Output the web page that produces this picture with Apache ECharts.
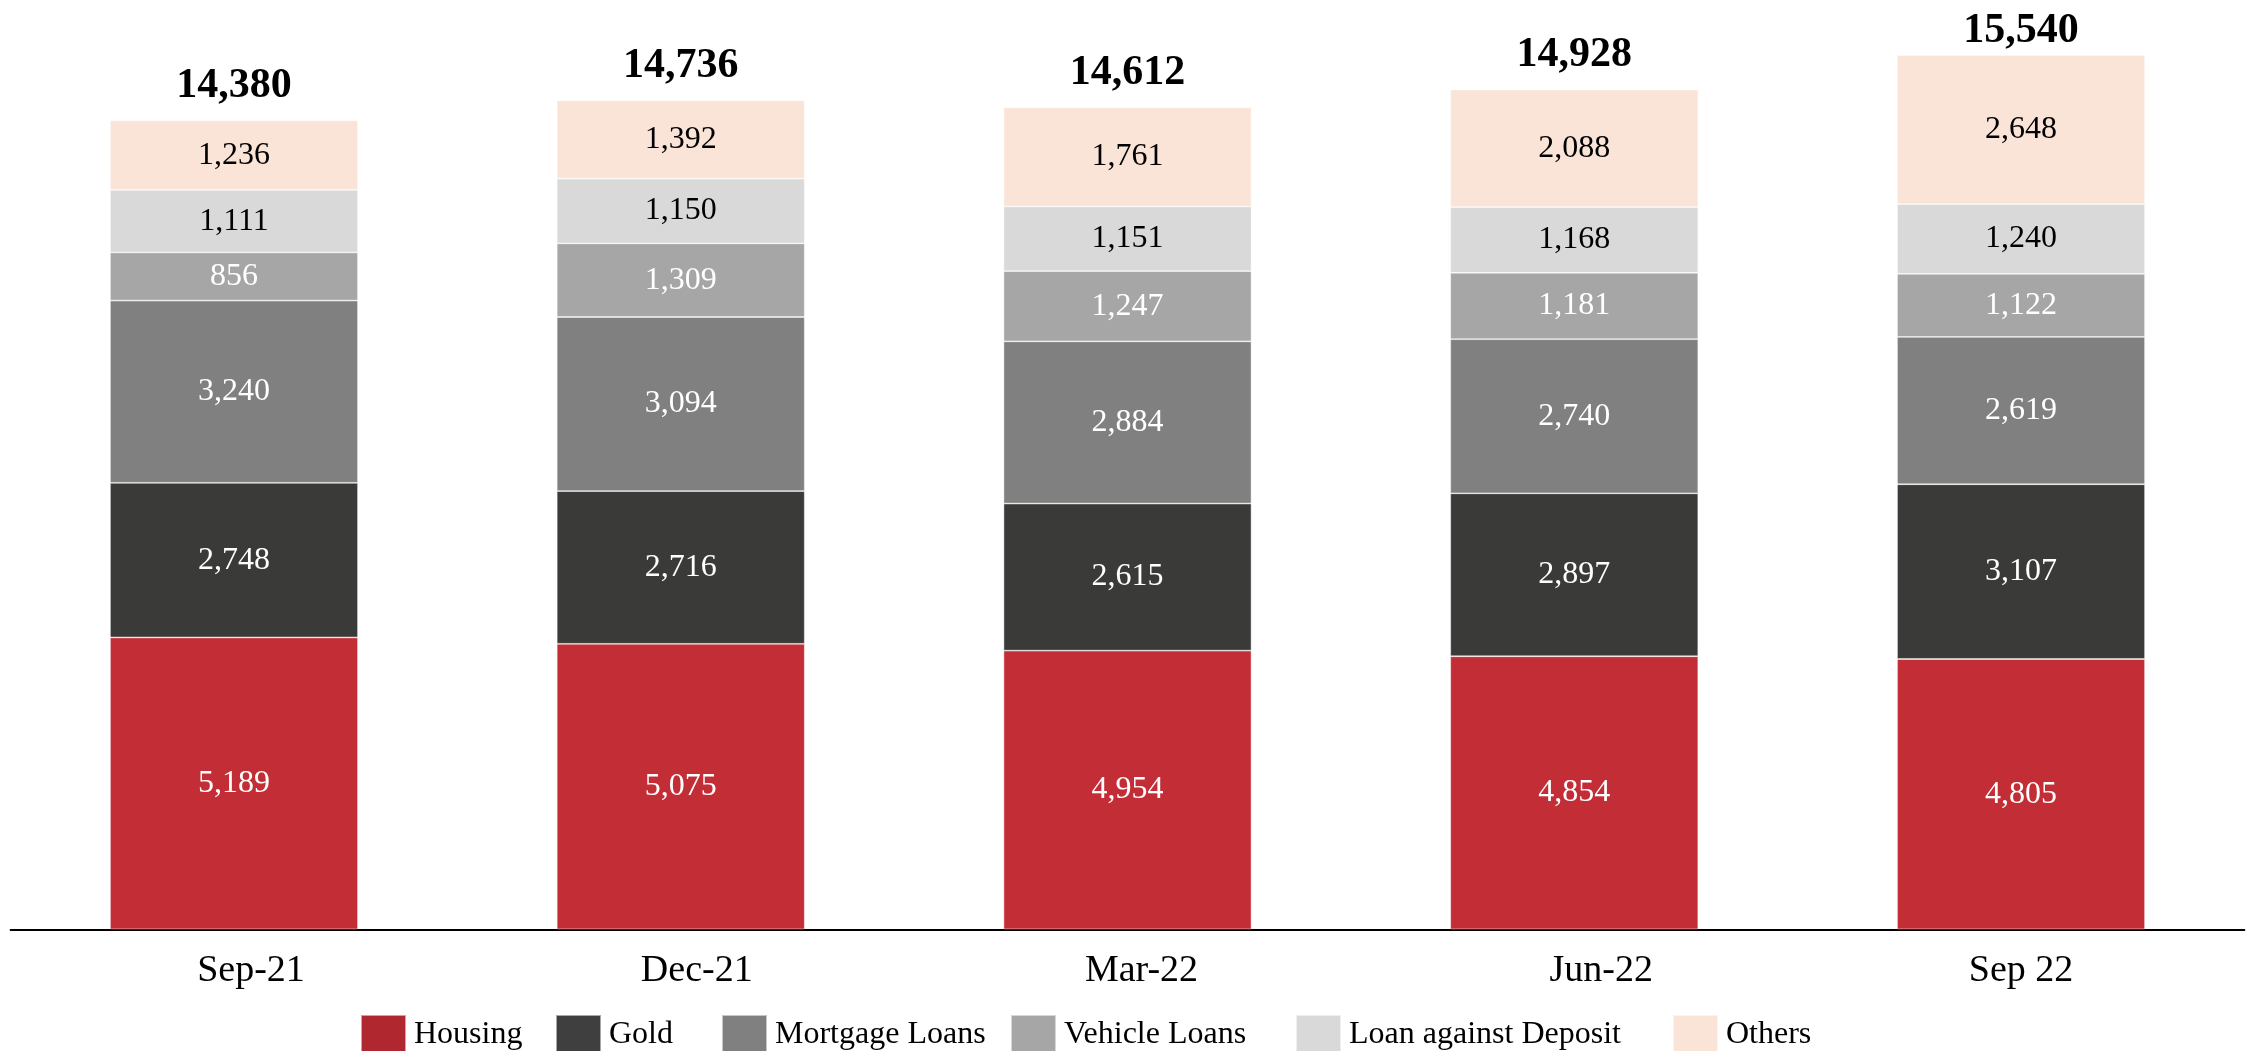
<!DOCTYPE html>
<html>
<head>
<meta charset="utf-8">
<script src="https://cdn.jsdelivr.net/npm/echarts@6/dist/echarts.min.js"></script>
<style>
  html, body { margin: 0; padding: 0; background: #ffffff; }
  #chart { width: 2251px; height: 1051px; }
</style>
</head>
<body>
<div id="chart"></div>
<script>
// Loan book composition by quarter (stacked), with quarter totals on top
const categories = ['Sep-21', 'Dec-21', 'Mar-22', 'Jun-22', 'Sep 22'];
const housing = [5189, 5075, 4954, 4854, 4805];
const gold = [2748, 2716, 2615, 2897, 3107];
const mortgageLoans = [3240, 3094, 2884, 2740, 2619];
const vehicleLoans = [856, 1309, 1247, 1181, 1122];
const loanAgainstDeposit = [1111, 1150, 1151, 1168, 1240];
const others = [1236, 1392, 1761, 2088, 2648];
const totals = [14380, 14736, 14612, 14928, 15540];

const seriesNames = ['Housing', 'Gold', 'Mortgage Loans', 'Vehicle Loans', 'Loan against Deposit', 'Others'];

const FONT = '"Liberation Serif", "Times New Roman", serif';
const fmt = v => Number(v).toLocaleString('en-US');

// Bar and legend swatch colours
const barColors = ['#C32D35', '#3A3A39', '#808080', '#A6A6A6', '#D9D9D9', '#FAE4D8'];
const swatchColors = ['#B0272F', '#3F3F3F', '#808080', '#A6A6A6', '#D9D9D9', '#FAE4D8'];
const labelColors = ['#ffffff', '#ffffff', '#ffffff', '#ffffff', '#000000', '#000000'];
// Left edge of each legend entry
const legendLefts = [355, 550, 716, 1005, 1290, 1667];
// Horizontal nudge (px) of each quarter label from its bar centre
const axisLabelShift = [17, 16, 14, 27, 0];

function stackSeries(i, data) {
  return {
    name: seriesNames[i],
    type: 'bar',
    stack: 'book',
    data: data,
    barWidth: 248,
    itemStyle: { color: barColors[i], borderColor: 'rgba(255,255,255,0.55)', borderWidth: 0.8 },
    label: {
      show: true,
      position: 'inside',
      color: labelColors[i],
      fontFamily: FONT,
      fontSize: 32,
      formatter: p => fmt(p.value)
    },
    emphasis: { disabled: true }
  };
}

const legends = seriesNames.map((name, i) => ({
  left: legendLefts[i],
  top: 1009,
  itemWidth: 45,
  itemHeight: 40,
  icon: 'rect',
  selectedMode: false,
  textStyle: { fontFamily: FONT, fontSize: 32, color: '#000000', padding: [0, 0, 0, 3] },
  data: [{ name: name, itemStyle: { color: swatchColors[i] } }]
}));

const axisRich = {};
axisLabelShift.forEach((s, i) => {
  axisRich['q' + i] = {
    fontFamily: FONT,
    fontSize: 38,
    color: '#000000',
    padding: [0, Math.max(0, -2 * s), 0, Math.max(0, 2 * s)]
  };
});

// The last total sits close to the top edge, so it hugs its bar more tightly
const totalData = totals.map((v, i) => ({
  value: v,
  label: { distance: i === totals.length - 1 ? 3 : 13 }
}));

const chart = echarts.init(document.getElementById('chart'), null, { renderer: 'canvas' });
chart.setOption({
  backgroundColor: '#ffffff',
  animation: false,
  grid: { left: 10.6, right: 6.6, top: 29.3, bottom: 121.7, containLabel: false },
  legend: legends,
  xAxis: {
    type: 'category',
    data: categories,
    axisLine: { show: true, lineStyle: { color: '#000000', width: 2 } },
    axisTick: { show: false },
    axisLabel: {
      color: '#000000',
      fontFamily: FONT,
      fontSize: 38,
      margin: 23,
      formatter: (v, i) => '{q' + i + '|' + v + '}',
      rich: axisRich
    },
    splitLine: { show: false }
  },
  yAxis: {
    type: 'value',
    min: 0,
    max: 16000,
    show: false,
    splitLine: { show: false }
  },
  series: [
    stackSeries(0, housing),
    stackSeries(1, gold),
    stackSeries(2, mortgageLoans),
    stackSeries(3, vehicleLoans),
    stackSeries(4, loanAgainstDeposit),
    stackSeries(5, others),
    {
      name: 'Total',
      type: 'scatter',
      data: totalData,
      symbolSize: 0,
      silent: true,
      itemStyle: { opacity: 1 },
      label: {
        show: true,
        position: 'top',
        color: '#000000',
        fontFamily: FONT,
        fontWeight: 'bold',
        fontSize: 42,
        formatter: p => fmt(p.value)
      },
      emphasis: { disabled: true }
    }
  ]
});
</script>
</body>
</html>
